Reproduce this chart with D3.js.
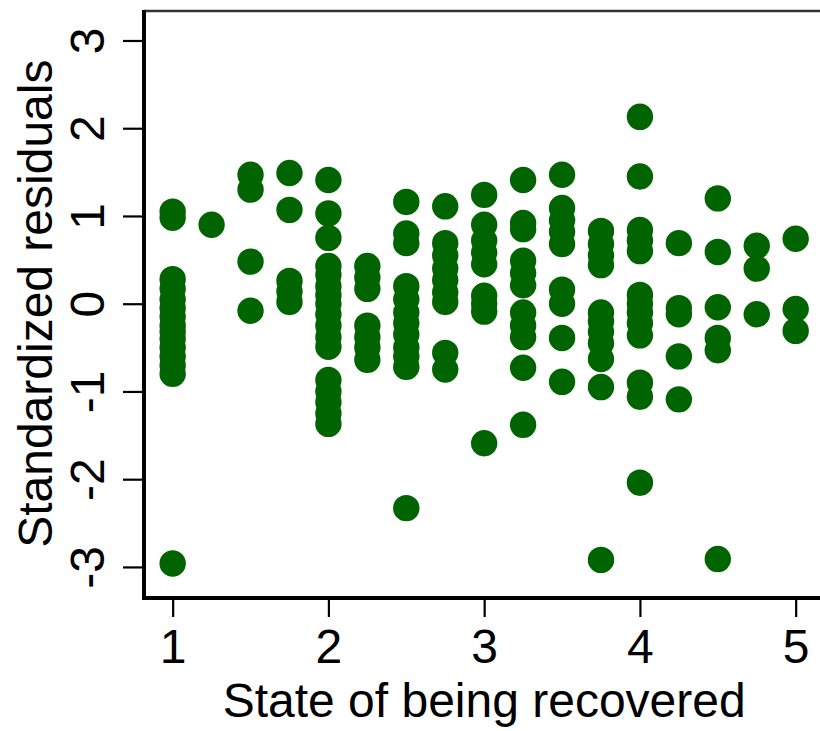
<!DOCTYPE html>
<html>
<head>
<meta charset="utf-8">
<script src="https://cdn.jsdelivr.net/npm/d3@7"></script>
<style>
  html, body { margin: 0; padding: 0; background: #ffffff; }
  svg { display: block; }
  text { font-family: "Liberation Sans", Arial, Helvetica, sans-serif; fill: #000; }
</style>
</head>
<body>
<svg id="chart" width="820" height="731"></svg>
<script>
// Recovery state (x) for each column of observations
const states = [1, 1.25, 1.5, 1.75, 2, 2.25, 2.5, 2.75, 3, 3.25, 3.5, 3.75, 4, 4.25, 4.5, 4.75, 5];

// Standardized residuals observed at each recovery state
const residuals = [
  [1.05, 0.98, 0.28, 0.17, 0.05, -0.05, -0.15, -0.25, -0.32, -0.4, -0.5, -0.6, -0.7, -0.8, -2.96],
  [0.9],
  [1.47, 1.3, 0.48, -0.08],
  [1.49, 1.07, 0.26, 0.14, 0.02],
  [1.41, 1.03, 0.75, 0.43, 0.33, 0.2, 0.1, 0.0, -0.12, -0.25, -0.38, -0.49, -0.87, -1.0, -1.12, -1.25, -1.37],
  [0.43, 0.3, 0.17, -0.25, -0.38, -0.5, -0.64],
  [1.16, 0.8, 0.69, 0.2, 0.05, -0.1, -0.22, -0.35, -0.5, -0.6, -0.72, -2.33],
  [1.11, 0.69, 0.55, 0.4, 0.27, 0.13, 0.02, -0.56, -0.75],
  [1.24, 0.9, 0.72, 0.58, 0.45, 0.09, 0.0, -0.09, -1.59],
  [1.41, 0.92, 0.85, 0.49, 0.35, 0.21, -0.1, -0.25, -0.38, -0.73, -1.38],
  [1.47, 1.09, 0.95, 0.82, 0.68, 0.16, 0.0, -0.39, -0.89],
  [0.83, 0.68, 0.55, 0.44, -0.1, -0.2, -0.32, -0.45, -0.63, -0.95, -2.92],
  [2.13, 1.45, 0.84, 0.72, 0.6, 0.1, 0.0, -0.1, -0.22, -0.36, -0.9, -1.06, -2.04],
  [0.69, -0.05, -0.12, -0.6, -1.09],
  [1.2, 0.59, -0.04, -0.39, -0.53, -2.91],
  [0.66, 0.4, -0.12],
  [0.74, -0.06, -0.31]
];

const xTicks = [1, 2, 3, 4, 5];
const yTicks = [-3, -2, -1, 0, 1, 2, 3];
const xTitle = "State of being recovered";
const yTitle = "Standardized residuals";

const points = states.flatMap((s, i) => residuals[i].map(r => ({ x: s, y: r })));

const svg = d3.select("#chart");
svg.append("rect").attr("width", 820).attr("height", 731).attr("fill", "#fff");

const x = d3.scaleLinear().domain([0.816, 5.3]).range([144, 842.4]);
const y = d3.scaleLinear().domain([-3.354, 3.336]).range([598, 11]);

const green = "#006400";

// Plot region outline: top edge (right side runs off the canvas)
svg.append("line")
  .attr("x1", x(0.816)).attr("x2", x(5.3))
  .attr("y1", y(3.336)).attr("y2", y(3.336))
  .attr("stroke", "#333").attr("stroke-width", 2.5);

// Points
svg.append("g")
  .selectAll("circle")
  .data(points)
  .join("circle")
  .attr("cx", d => x(d.x))
  .attr("cy", d => y(d.y))
  .attr("r", 13.2)
  .attr("fill", green);

// Y axis
const yAxis = d3.axisLeft(y).tickValues(yTicks).tickSize(21).tickPadding(0).tickFormat(d3.format("d"));
const gy = svg.append("g").attr("transform", `translate(${x(0.816)},0)`).call(yAxis);
gy.select(".domain").remove();
gy.selectAll(".tick line").attr("stroke", "#000").attr("stroke-width", 2.2);
gy.selectAll(".tick text").remove();
gy.selectAll(".tick").append("text")
  .attr("transform", "translate(-40,0) rotate(-90)")
  .attr("text-anchor", "middle")
  .attr("dy", 0)
  .attr("font-size", 48)
  .text(d => d);

// X axis
const xAxis = d3.axisBottom(x).tickValues(xTicks).tickSize(19).tickPadding(0).tickFormat(d3.format("d"));
const gx = svg.append("g").attr("transform", `translate(0,${y(-3.354)})`).call(xAxis);
gx.select(".domain").remove();
gx.selectAll(".tick line").attr("stroke", "#000").attr("stroke-width", 2.2);
gx.selectAll(".tick text").remove();
gx.selectAll(".tick").append("text")
  .attr("y", 65)
  .attr("text-anchor", "middle")
  .attr("font-size", 48)
  .text(d => d);

// Axis lines (left and bottom, heavier)
svg.append("line")
  .attr("x1", x(0.816)).attr("x2", x(0.816))
  .attr("y1", y(3.336) - 1).attr("y2", y(-3.354) + 2)
  .attr("stroke", "#000").attr("stroke-width", 4);
svg.append("line")
  .attr("x1", x(0.816) - 2).attr("x2", x(5.3))
  .attr("y1", y(-3.354)).attr("y2", y(-3.354))
  .attr("stroke", "#000").attr("stroke-width", 4);

// Axis titles
svg.append("text")
  .attr("x", (x(1) + x(5)) / 2 + 0)
  .attr("y", 717)
  .attr("text-anchor", "middle")
  .attr("font-size", 48)
  .text(xTitle);

svg.append("text")
  .attr("transform", `translate(52,${y(0)}) rotate(-90)`)
  .attr("text-anchor", "middle")
  .attr("font-size", 48)
  .text(yTitle);
</script>
</body>
</html>
